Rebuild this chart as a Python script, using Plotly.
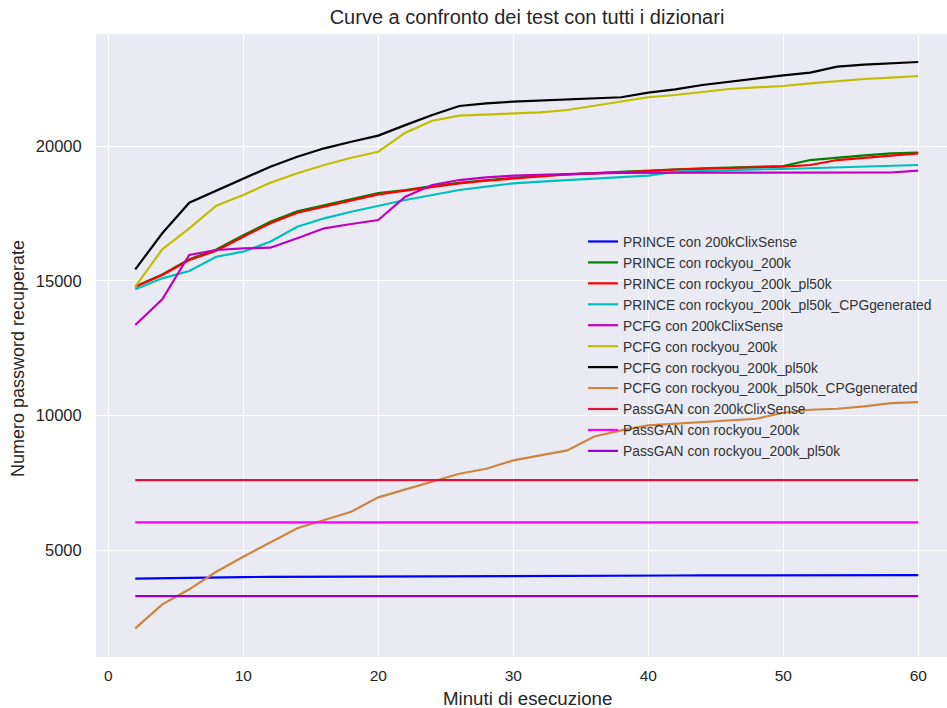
import plotly.graph_objects as go

minutes = [2, 4, 6, 8, 10, 12, 14, 16, 18, 20, 22, 24, 26, 28, 30,
           32, 34, 36, 38, 40, 42, 44, 46, 48, 50, 52, 54, 56, 58, 60]

prince_clix = [3940, 3960, 3975, 3985, 3995, 4005, 4010, 4015, 4020, 4025,
               4030, 4033, 4036, 4040, 4042, 4045, 4047, 4049, 4051, 4053,
               4055, 4057, 4059, 4060, 4062, 4064, 4066, 4068, 4069, 4072]
prince_rockyou = [14790, 15230, 15800, 16160, 16690, 17190, 17580, 17800, 18020, 18260,
                  18370, 18520, 18640, 18740, 18820, 18900, 18960, 19000, 19040, 19090,
                  19140, 19175, 19200, 19225, 19262, 19483, 19582, 19656, 19730, 19755]
prince_pl50k = [14779, 15213, 15770, 16116, 16636, 17133, 17527, 17750, 17973, 18210,
                18344, 18493, 18617, 18715, 18803, 18890, 18952, 18989, 19025, 19075,
                19130, 19165, 19190, 19210, 19237, 19299, 19483, 19570, 19631, 19730]
prince_cpg = [14682, 15090, 15362, 15893, 16079, 16450, 17007, 17319, 17564, 17790,
              17999, 18184, 18370, 18493, 18617, 18679, 18741, 18803, 18865, 18902,
              19050, 19088, 19113, 19138, 19150, 19175, 19200, 19225, 19250, 19299]
pcfg_clix = [13357, 14311, 15956, 16142, 16205, 16227, 16576, 16947, 17107, 17256,
             18122, 18555, 18740, 18840, 18902, 18939, 18964, 18989, 19001, 19013,
             19013, 19013, 19013, 19013, 19013, 19013, 19013, 19013, 19020, 19088]
pcfg_rockyou = [14779, 16168, 16947, 17787, 18184, 18641, 18990, 19298, 19569, 19792,
                20498, 20944, 21130, 21180, 21217, 21254, 21341, 21490, 21652, 21814,
                21897, 22020, 22120, 22183, 22232, 22331, 22417, 22492, 22541, 22603]
pcfg_pl50k = [15425, 16762, 17898, 18345, 18804, 19235, 19606, 19918, 20163, 20390,
              20780, 21155, 21490, 21590, 21652, 21690, 21727, 21752, 21814, 21987,
              22109, 22269, 22391, 22518, 22629, 22727, 22950, 23023, 23074, 23123]
pcfg_cpg = [2094, 2985, 3542, 4196, 4753, 5273, 5808, 6116, 6424, 6956,
            7239, 7524, 7834, 8019, 8329, 8514, 8700, 9220, 9443, 9629,
            9690, 9752, 9790, 9876, 10099, 10210, 10248, 10334, 10458, 10495]
passgan_clix = [7600] * 30
passgan_rockyou = [6030] * 30
passgan_pl50k = [3290] * 30

series = [
    ("PRINCE con 200kClixSense", prince_clix, "#0000ff"),
    ("PRINCE con rockyou_200k", prince_rockyou, "#008000"),
    ("PRINCE con rockyou_200k_pl50k", prince_pl50k, "#ff0000"),
    ("PRINCE con rockyou_200k_pl50k_CPGgenerated", prince_cpg, "#00bfbf"),
    ("PCFG con 200kClixSense", pcfg_clix, "#bf00bf"),
    ("PCFG con rockyou_200k", pcfg_rockyou, "#bfbf00"),
    ("PCFG con rockyou_200k_pl50k", pcfg_pl50k, "#000000"),
    ("PCFG con rockyou_200k_pl50k_CPGgenerated", pcfg_cpg, "#cd853f"),
    ("PassGAN con 200kClixSense", passgan_clix, "#dc143c"),
    ("PassGAN con rockyou_200k", passgan_rockyou, "#ff00ff"),
    ("PassGAN con rockyou_200k_pl50k", passgan_pl50k, "#9400d3"),
]

x_ticks = [0, 10, 20, 30, 40, 50, 60]
y_ticks = [5000, 10000, 15000, 20000]

fig = go.Figure()
for i, (name, vals, color) in enumerate(series):
    fig.add_trace(go.Scatter(x=minutes, y=vals, mode="lines", name=name,
                             legendgroup=f"g{i}",
                             line=dict(color=color, width=2.2)))

txt = "#262626"
font = "Liberation Sans, Arial, sans-serif"
W, H = 947, 708
L, T, B = 96, 34, 51
PW, PH = W - L, H - T - B
fig.update_layout(
    width=W, height=H,
    margin=dict(l=L, r=0, t=T, b=B),
    paper_bgcolor="white",
    plot_bgcolor="#eaeaf2",
    font=dict(family=font, color=txt, size=14),
    title=dict(text="Curve a confronto dei test con tutti i dizionari",
               x=527 / W, xanchor="center", yref="container", y=1 - 17 / H,
               yanchor="middle", pad=dict(t=0, b=0),
               font=dict(size=20, color=txt)),
    showlegend=True,
    legend=dict(x=(583 - L) / PW, xanchor="left", y=(H - B - 226) / PH, yanchor="top",
                bgcolor="rgba(0,0,0,0)", font=dict(size=13.8, color="#333333"),
                tracegroupgap=0, itemwidth=30),
    xaxis=dict(range=[-0.91, 62.13], tickvals=x_ticks, showgrid=True, gridcolor="white",
               gridwidth=1.3, zeroline=False, showline=False, ticks="outside",
               ticklen=4, tickcolor="rgba(0,0,0,0)", tickfont=dict(size=15.5)),
    yaxis=dict(range=[1029, 24163], tickvals=y_ticks, tickformat="d", showgrid=True,
               gridcolor="white", gridwidth=1.3, zeroline=False, showline=False,
               ticks="outside", ticklen=10, tickcolor="rgba(0,0,0,0)",
               tickfont=dict(size=16.5)),
    annotations=[
        dict(text="Minuti di esecuzione", xref="paper", yref="paper",
             x=(527 - L) / PW, y=-(698 - (H - B)) / PH, xanchor="center", yanchor="middle",
             showarrow=False, font=dict(size=18.7, color=txt)),
        dict(text="Numero password recuperate", xref="paper", yref="paper",
             x=-(L - 18) / PW, y=((H - B) - 359) / PH, xanchor="center", yanchor="middle",
             textangle=-90, showarrow=False, font=dict(size=18, color=txt)),
    ],
)

fig.write_html("out.html", config={"displayModeBar": False},
               post_script="document.body.style.margin='0px';document.body.style.overflow='hidden';")
